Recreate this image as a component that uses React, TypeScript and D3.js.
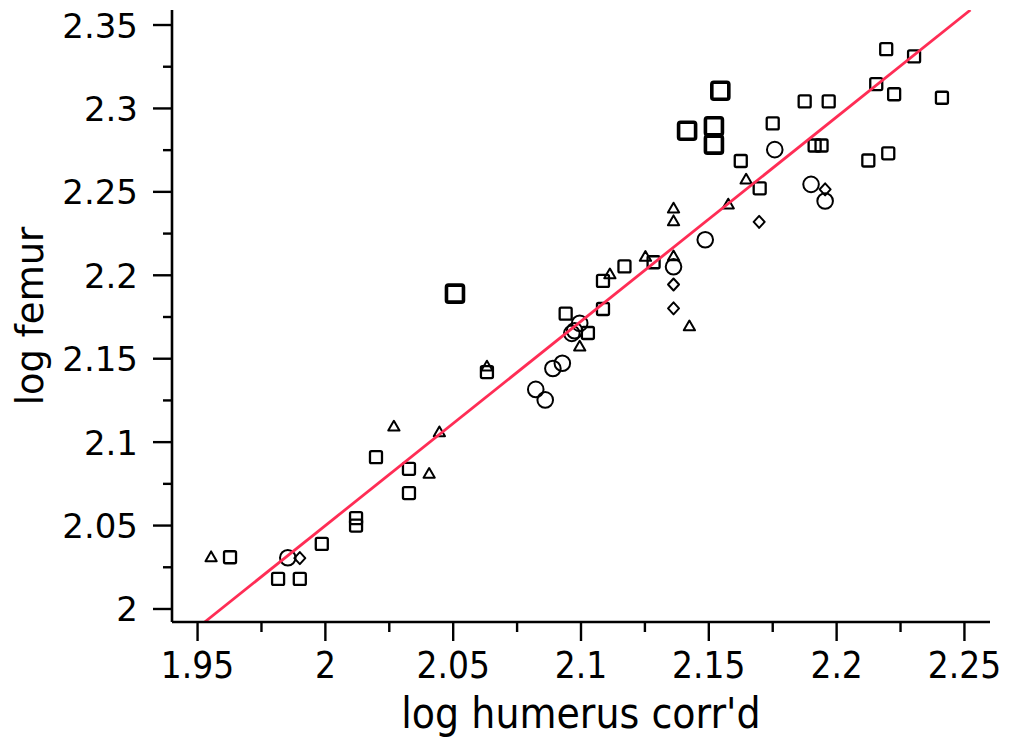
import React, { useEffect, useRef } from 'react';
import * as d3 from 'd3';

const W = 1009;
const H = 738;

// Axis ticks
const xMajorTicks = [1.95, 2.0, 2.05, 2.1, 2.15, 2.2, 2.25];
const xTickLabels = ['1.95', '2', '2.05', '2.1', '2.15', '2.2', '2.25'];
const xMinorTicks = [1.975, 2.025, 2.075, 2.125, 2.175, 2.225];
const yMajorTicks = [2.0, 2.05, 2.1, 2.15, 2.2, 2.25, 2.3, 2.35];
const yTickLabels = ['2', '2.05', '2.1', '2.15', '2.2', '2.25', '2.3', '2.35'];
const yMinorTicks = [2.025, 2.075, 2.125, 2.175, 2.225, 2.275, 2.325];

const xTitle = "log humerus corr'd";
const yTitle = 'log femur';

// Series: squares
const squareX = [1.9627, 1.9815, 1.990, 1.9986, 2.012, 2.012, 2.0198, 2.0327, 2.0327, 2.0632, 2.094, 2.1027, 2.1086, 2.1086, 2.117, 2.1284, 2.1625, 2.1699, 2.175, 2.1875, 2.1969, 2.1914, 2.1941, 2.2124, 2.2202, 2.2155, 2.2225, 2.2194, 2.2303, 2.2412];
const squareY = [2.031, 2.018, 2.018, 2.039, 2.0545, 2.050, 2.091, 2.084, 2.0695, 2.142, 2.177, 2.1654, 2.1798, 2.1966, 2.2053, 2.2078, 2.2685, 2.2521, 2.291, 2.3042, 2.3042, 2.2778, 2.2778, 2.2688, 2.2731, 2.3146, 2.3085, 2.3355, 2.3312, 2.3064];

// Series: bold (large) squares
const boldSquareX = [2.0507, 2.1415, 2.152, 2.152, 2.1545];
const boldSquareY = [2.189, 2.2866, 2.2893, 2.2783, 2.3106];

// Series: circles
const circleX = [1.9853, 2.0823, 2.086, 2.089, 2.0927, 2.0964, 2.0975, 2.0995, 2.1362, 2.1486, 2.1758, 2.19, 2.1955];
const circleY = [2.0307, 2.1316, 2.1253, 2.1441, 2.1473, 2.1652, 2.1668, 2.1712, 2.2051, 2.2213, 2.2753, 2.2545, 2.2445];

// Series: triangles
const triangleX = [1.9553, 2.0268, 2.0406, 2.0446, 2.0632, 2.0995, 2.1113, 2.1252, 2.1362, 2.1362, 2.1362, 2.1424, 2.1576, 2.1646];
const triangleY = [2.0312, 2.1095, 2.0812, 2.1061, 2.1455, 2.1574, 2.2007, 2.2112, 2.2402, 2.2326, 2.2115, 2.1696, 2.2426, 2.2575];

// Series: diamonds
const diamondX = [1.990, 2.1362, 2.1362, 2.1697, 2.1955];
const diamondY = [2.0305, 2.1945, 2.1802, 2.232, 2.2515];

// Regression line y = a + b x
const fitIntercept = -0.399;
const fitSlope = 1.2245;

export default function App() {
  const ref = useRef<SVGSVGElement | null>(null);

  useEffect(() => {
    const svg = d3.select(ref.current);
    svg.selectAll('*').remove();

    const x = d3.scaleLinear().domain([1.94, 2.26]).range([172, 990]);
    const y = d3.scaleLinear().domain([1.9922, 2.359]).range([622, 10]);
    const [x0, x1] = x.domain();
    const [y0, y1] = y.domain();
    const font = 'DejaVu Sans, Verdana, sans-serif';

    const g = svg.append('g');

    // clip
    svg.append('defs').append('clipPath').attr('id', 'plotclip')
      .append('rect').attr('x', x(x0)).attr('y', y(y1)).attr('width', x(x1) - x(x0)).attr('height', y(y0) - y(y1));

    // Markers
    const marks = g.append('g').attr('fill', 'none').attr('stroke', '#000');

    const sq = d3.zip(squareX, squareY);
    marks.selectAll('rect.sq').data(sq).enter().append('rect')
      .attr('x', d => x(d[0]) - 6).attr('y', d => y(d[1]) - 6)
      .attr('width', 12).attr('height', 12).attr('rx', 1.5)
      .attr('stroke-width', 2.3);

    const bsq = d3.zip(boldSquareX, boldSquareY);
    marks.selectAll('rect.bsq').data(bsq).enter().append('rect')
      .attr('x', d => x(d[0]) - 8.5).attr('y', d => y(d[1]) - 8.5)
      .attr('width', 17).attr('height', 17).attr('rx', 2)
      .attr('stroke-width', 3.6);

    const circ = d3.zip(circleX, circleY);
    marks.selectAll('circle').data(circ).enter().append('circle')
      .attr('cx', d => x(d[0])).attr('cy', d => y(d[1])).attr('r', 7.8)
      .attr('stroke-width', 2);

    const tri = d3.zip(triangleX, triangleY);
    const triPath = d3.symbol().type(d3.symbolTriangle).size(55);
    marks.selectAll('path.tri').data(tri).enter().append('path')
      .attr('d', triPath as any)
      .attr('transform', d => `translate(${x(d[0])},${y(d[1]) + 1})`)
      .attr('stroke-width', 2).attr('stroke-linejoin', 'round');

    const dia = d3.zip(diamondX, diamondY);
    marks.selectAll('path.dia').data(dia).enter().append('path')
      .attr('d', 'M0,-6L5.5,0L0,6L-5.5,0Z')
      .attr('transform', d => `translate(${x(d[0])},${y(d[1])})`)
      .attr('stroke-width', 2).attr('stroke-linejoin', 'round');

    // Regression line
    const lx0 = (y0 - fitIntercept) / fitSlope;
    const lx1 = (y1 - fitIntercept) / fitSlope;
    g.append('line')
      .attr('clip-path', 'url(#plotclip)')
      .attr('x1', x(lx0)).attr('y1', y(fitIntercept + fitSlope * lx0))
      .attr('x2', x(lx1)).attr('y2', y(fitIntercept + fitSlope * lx1))
      .attr('stroke', '#ff2d55').attr('stroke-width', 2.8);

    // Axes
    const ax = g.append('g').attr('stroke', '#000');
    ax.append('line').attr('x1', x(x0)).attr('x2', x(x1)).attr('y1', y(y0)).attr('y2', y(y0)).attr('stroke-width', 2.6);
    ax.append('line').attr('x1', x(x0)).attr('x2', x(x0)).attr('y1', y(y0)).attr('y2', y(y1)).attr('stroke-width', 2.6);

    ax.selectAll('line.xmaj').data(xMajorTicks).enter().append('line')
      .attr('x1', d => x(d)).attr('x2', d => x(d)).attr('y1', y(y0)).attr('y2', y(y0) + 19).attr('stroke-width', 2.4);
    ax.selectAll('line.xmin').data(xMinorTicks).enter().append('line')
      .attr('x1', d => x(d)).attr('x2', d => x(d)).attr('y1', y(y0)).attr('y2', y(y0) + 10).attr('stroke-width', 2.4);
    ax.selectAll('line.ymaj').data(yMajorTicks).enter().append('line')
      .attr('y1', d => y(d)).attr('y2', d => y(d)).attr('x1', x(x0)).attr('x2', x(x0) - 19).attr('stroke-width', 2.4);
    ax.selectAll('line.ymin').data(yMinorTicks).enter().append('line')
      .attr('y1', d => y(d)).attr('y2', d => y(d)).attr('x1', x(x0)).attr('x2', x(x0) - 9).attr('stroke-width', 2.4);

    // Tick labels
    const txt = g.append('g').attr('fill', '#000').attr('font-family', font);
    txt.selectAll('text.xl').data(xMajorTicks).enter().append('text')
      .attr('transform', d => `translate(${x(d)},${y(y0) + 56}) scale(1,1.12)`)
      .attr('text-anchor', 'middle').attr('font-size', 33)
      .text((d, i) => xTickLabels[i]);
    txt.selectAll('text.yl').data(yMajorTicks).enter().append('text')
      .attr('x', x(x0) - 34).attr('y', d => y(d) + 12.5)
      .attr('text-anchor', 'end').attr('font-size', 34)
      .text((d, i) => yTickLabels[i]);

    // Titles
    txt.append('text')
      .attr('transform', `translate(${(x(x0) + x(x1)) / 2},${y(y0) + 106}) scale(1,1.1)`)
      .attr('text-anchor', 'middle').attr('font-size', 38)
      .text(xTitle);
    txt.append('text')
      .attr('transform', `translate(43,${(y(y0) + y(y1)) / 2}) rotate(-90)`)
      .attr('text-anchor', 'middle').attr('font-size', 37)
      .text(yTitle);
  }, []);

  return (
    <svg
      ref={ref}
      width={W}
      height={H}
      style={{ position: 'absolute', left: 0, top: 0, background: '#fff' }}
    />
  );
}
